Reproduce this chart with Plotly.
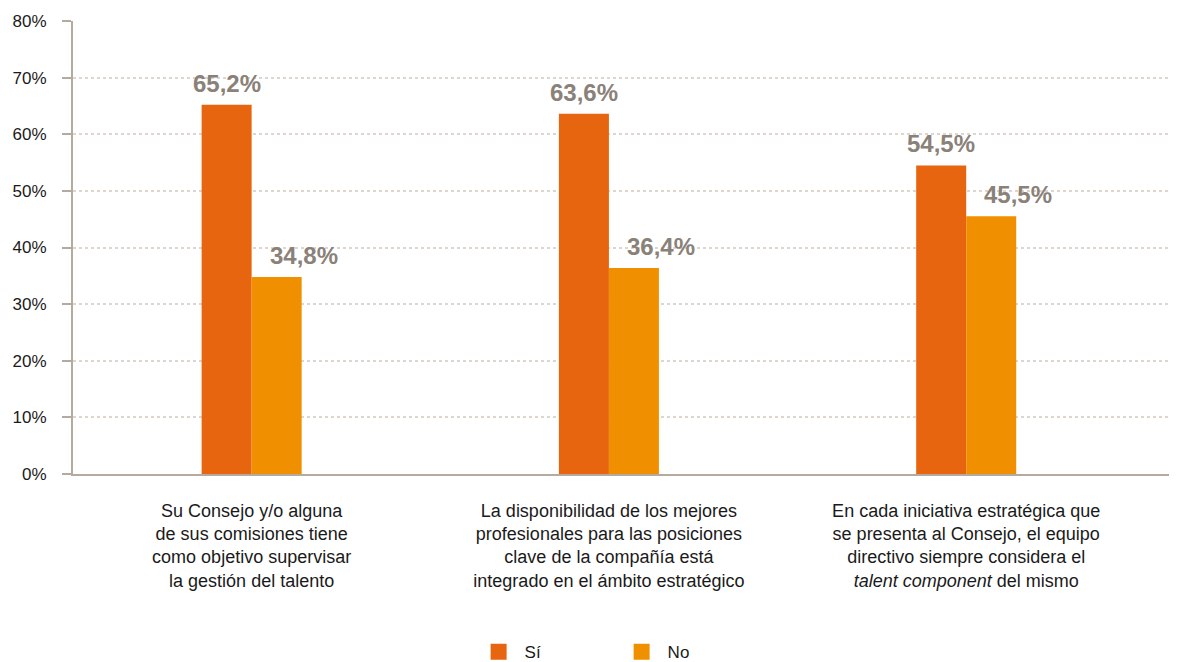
import plotly.graph_objects as go

categories = [
    "Su Consejo y/o alguna<br>de sus comisiones tiene<br>como objetivo supervisar<br>la gestión del talento",
    "La disponibilidad de los mejores<br>profesionales para las posiciones<br>clave de la compañía está<br>integrado en el ámbito estratégico",
    "En cada iniciativa estratégica que<br>se presenta al Consejo, el equipo<br>directivo siempre considera el<br><i>talent component</i> del mismo",
]
si_values = [65.2, 63.6, 54.5]
no_values = [34.8, 36.4, 45.5]
tick_vals = [0, 10, 20, 30, 40, 50, 60, 70, 80]
tick_text = ["0%", "10%", "20%", "30%", "40%", "50%", "60%", "70%", "80%"]

SI_COLOR = "#E8650F"
NO_COLOR = "#F09000"
LABEL_COLOR = "#8A8178"
AXIS_COLOR = "#B5AAA0"
FONT = "Liberation Sans, Arial, sans-serif"


def pct(v):
    return f"{v:.1f}%".replace(".", ",")


fig = go.Figure()

fig.add_trace(go.Bar(x=categories, y=si_values, name="Sí", marker_color=SI_COLOR,
                     marker_line_width=0, showlegend=False))
fig.add_trace(go.Bar(x=categories, y=no_values, name="No", marker_color=NO_COLOR,
                     marker_line_width=0, showlegend=False))

# value labels, "No" ones sit off to the right like in the original
for cat, v in zip(categories, si_values):
    fig.add_annotation(x=cat, y=v, text=pct(v), showarrow=False, xshift=-25, yshift=6,
                       yanchor="bottom", font=dict(size=24, color=LABEL_COLOR, family=FONT, weight="bold"))
for cat, v in zip(categories, no_values):
    fig.add_annotation(x=cat, y=v, text=pct(v), showarrow=False, xshift=52, yshift=6,
                       yanchor="bottom", font=dict(size=24, color=LABEL_COLOR, family=FONT, weight="bold"))

# legend-only entries with big square swatches
for name, color in [("Sí", SI_COLOR), ("No", NO_COLOR)]:
    fig.add_trace(go.Scatter(x=[None], y=[None], mode="markers", name=name,
                             marker=dict(symbol="square", size=22, color=color)))

# page body has an 8px margin, so margins are shifted to compensate
fig.update_layout(
    width=1177, height=662,
    margin=dict(l=65, r=8, t=13, b=196),
    plot_bgcolor="white", paper_bgcolor="white",
    barmode="group", bargap=0.72, bargroupgap=0,
    font=dict(family=FONT, size=17, color="#1a1a1a"),
    legend=dict(orientation="h", x=0.4915, xanchor="center", yref="container", y=0.027,
                yanchor="middle", itemsizing="trace", font=dict(size=17), itemwidth=42,
                entrywidth=86),
)

fig.update_xaxes(range=[-0.5, 2.59], showgrid=False, showline=True, linecolor=AXIS_COLOR,
                 linewidth=2, ticks="", automargin=False, ticklabelstandoff=19,
                 tickfont=dict(size=18, color="#1a1a1a"))
fig.update_yaxes(range=[0, 80], tickvals=tick_vals, ticktext=tick_text,
                 showline=True, linecolor=AXIS_COLOR, linewidth=2, automargin=False,
                 ticks="outside", ticklen=9, tickcolor=AXIS_COLOR, tickwidth=2,
                 ticklabelstandoff=12,
                 gridcolor="#DDD6CF", griddash="dot", gridwidth=1.5,
                 zeroline=False, tickfont=dict(size=17, color="#1a1a1a"))

fig.write_html("out.html")
